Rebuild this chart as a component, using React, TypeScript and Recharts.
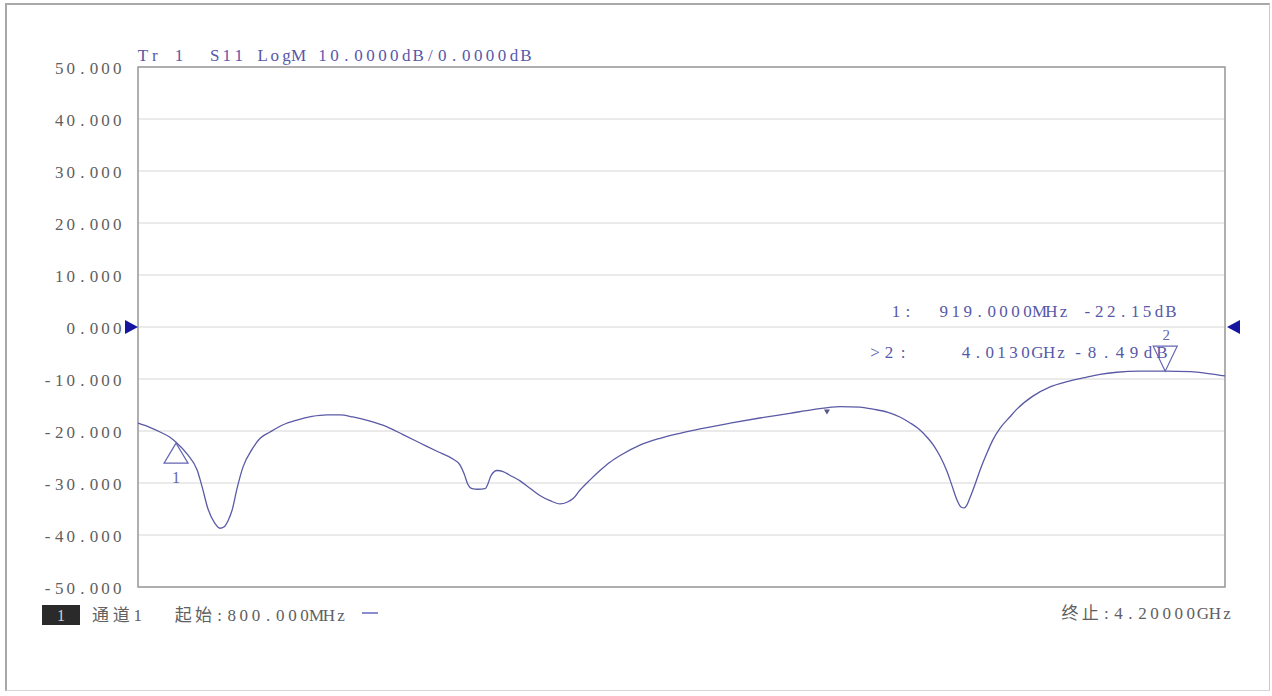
import React from "react";
import {
  LineChart,
  Line,
  XAxis,
  YAxis,
  CartesianGrid,
  ReferenceArea,
  ReferenceDot,
} from "recharts";

// ---- data ----
const freqMHz = [
  800, 837, 869, 900, 919, 956, 985, 1000, 1019, 1041, 1056, 1070, 1082, 1094, 1110, 1128, 1157, 1182, 1213,
  1254, 1297, 1344, 1391, 1432, 1472, 1526, 1579, 1629, 1682, 1735, 1785, 1807, 1820, 1832, 1845, 1863, 1885,
  1895, 1904, 1923, 1942, 1963, 1995, 2026, 2057, 2089, 2120, 2142, 2161, 2182, 2214, 2245, 2276, 2308, 2370,
  2433, 2498, 2558, 2652, 2745, 2839, 2911, 2996, 3058, 3099, 3146, 3183, 3214, 3246, 3268, 3290, 3310, 3330,
  3346, 3362, 3374, 3384, 3393, 3402, 3418, 3434, 3455, 3474, 3496, 3527, 3549, 3599, 3653, 3706, 3756, 3809,
  3862, 3934, 4013, 4091, 4153, 4200,
];
const s11dB = [
  -18.5, -19.3, -20.2, -21.2, -22.15, -24.6, -27.5, -30.6, -35, -37.8, -38.7, -38.4, -37.2, -35.3, -31, -27,
  -23.5, -21.4, -20.2, -18.8, -17.9, -17.2, -16.9, -16.9, -17.3, -18.1, -19.2, -20.7, -22.3, -23.9, -25.4, -26.5,
  -28.2, -30.3, -31.1, -31.2, -31.1, -30.1, -28.6, -27.6, -27.8, -28.5, -29.6, -31, -32.4, -33.4, -34, -33.7,
  -33, -31.4, -29.4, -27.6, -26, -24.7, -22.7, -21.4, -20.4, -19.6, -18.5, -17.5, -16.6, -15.9, -15.3, -15.4,
  -15.8, -16.4, -17.3, -18.4, -19.8, -21.2, -22.9, -25, -27.7, -30.5, -33.3, -34.6, -34.8, -34.2, -32.9, -30.3,
  -27.5, -24.3, -21.7, -19.5, -17.3, -15.8, -13.3, -11.5, -10.5, -9.8, -9.1, -8.7, -8.5, -8.49, -8.6, -9.0,
  -9.4,
];
const xTicks = [800, 1140, 1480, 1820, 2160, 2500, 2840, 3180, 3520, 3860, 4200];
const yTicks = [50, 40, 30, 20, 10, 0, -10, -20, -30, -40, -50];
const yTickLabels = [
  "50.000", "40.000", "30.000", "20.000", "10.000", "0.000",
  "-10.000", "-20.000", "-30.000", "-40.000", "-50.000",
];
const marker1 = { f: 919, db: -22.15, label: "1" };
const marker2 = { f: 4013, db: -8.49, label: "2" };
const smallMark = { f: 2955, db: -15.5 };
const titleText = "Tr 1  S11 LogM 10.0000dB/0.0000dB";
const markerLine1 = "1:  919.0000MHz -22.15dB";
const markerLine2 = [">2:", "4.0130GHz", "-8.49dB"];
const footerLeft = ["1", "通道1", "起始:800.000MHz"];
const footerRight = "终止:4.20000GHz";

const data = freqMHz.map((f, i) => ({ f, db: s11dB[i] }));

const FONT = "'Liberation Serif', 'Noto Sans CJK SC', serif";
const BLUE_TXT = "#5858a8";
const GRAY_TXT = "#606060";

const isWide = (ch: string) => ch.charCodeAt(0) > 0x2e80;

// Fixed-cell text (like an instrument's monospaced screen font): each glyph centred in its cell.
const Mono = ({ x, cy, w, children, fill = GRAY_TXT, size = 17, anchor = "start" }: any) => {
  const str: string = children;
  const chars = Array.from(str);
  const units = chars.reduce((s, c) => s + (isWide(c) ? 1.67 : 1), 0);
  const cw = w / units;
  const start = anchor === "end" ? x - w : x;
  const xs: number[] = [];
  let cur = start;
  for (const c of chars) {
    const cwc = isWide(c) ? cw * 1.67 : cw;
    xs.push(+(cur + cwc / 2).toFixed(2));
    cur += cwc;
  }
  return (
    <text
      x={xs.join(" ")}
      y={cy + size * 0.35}
      fontSize={size}
      fontFamily={FONT}
      fill={fill}
      textAnchor="middle"
      xmlSpace="preserve"
      style={{ whiteSpace: "pre" }}
    >
      {str}
    </text>
  );
};

const YTick = (props: any) => {
  const { x, y, payload } = props;
  const idx = yTicks.indexOf(payload.value);
  const label = idx >= 0 ? yTickLabels[idx] : String(payload.value);
  return (
    <Mono x={x} cy={y + 1} w={label.length * 11.6} anchor="end">
      {label}
    </Mono>
  );
};

const Marker1Shape = (props: any) => {
  const { cx, cy } = props;
  return (
    <g>
      <path d={`M${cx},${cy + 1} L${cx - 12},${cy + 21} L${cx + 12},${cy + 21} Z`} fill="none" stroke="#6464b4" strokeWidth={1.2} />
      <text x={cx} y={cy + 41} fontSize={16} fontFamily={FONT} fill="#6464b4" textAnchor="middle">
        {marker1.label}
      </text>
    </g>
  );
};

const Marker2Shape = (props: any) => {
  const { cx, cy } = props;
  return (
    <g>
      <path d={`M${cx},${cy} L${cx - 12},${cy - 25} L${cx + 12},${cy - 25} Z`} fill="none" stroke="#6464b4" strokeWidth={1.2} />
      <text x={cx + 1} y={cy - 31} fontSize={15} fontFamily={FONT} fill="#6464b4" textAnchor="middle">
        {marker2.label}
      </text>
    </g>
  );
};

const SmallMarkShape = (props: any) => {
  const { cx, cy } = props;
  return <path d={`M${cx - 3},${cy + 2} L${cx + 3},${cy + 2} L${cx},${cy + 7} Z`} fill="#55558a" />;
};

const LeftRefShape = (props: any) => {
  const { cx, cy } = props;
  return <path d={`M${cx - 13},${cy - 7} L${cx},${cy} L${cx - 13},${cy + 7} Z`} fill="#1515a0" />;
};

const RightRefShape = (props: any) => {
  const { cx, cy } = props;
  return <path d={`M${cx + 15},${cy - 7} L${cx + 2},${cy} L${cx + 15},${cy + 7} Z`} fill="#1515a0" />;
};

export default function App() {
  return (
    <div style={{ position: "absolute", left: 0, top: 0, width: 1272, height: 696, background: "#fff", overflow: "hidden" }}>
      <div
        style={{
          position: "absolute",
          left: 5,
          top: 3,
          width: 1262,
          height: 685,
          border: "2px solid #a8a8a8",
          borderRight: "1px solid #c8c8c8",
          borderBottom: "1px solid #d8d8d8",
        }}
      />
      <div style={{ position: "absolute", left: 0, top: 0 }}>
        <LineChart width={1272} height={696} data={data} margin={{ top: 67, right: 47, bottom: 109, left: 68 }}>
          <CartesianGrid stroke="#d6d6d6" strokeWidth={1} />
          <XAxis
            dataKey="f"
            type="number"
            domain={[800, 4200]}
            ticks={xTicks}
            tick={false}
            axisLine={false}
            tickLine={false}
            height={0}
          />
          <YAxis
            type="number"
            domain={[-50, 50]}
            ticks={yTicks}
            width={70}
            axisLine={false}
            tickLine={false}
            tickSize={0}
            tickMargin={15}
            tick={<YTick />}
            interval={0}
          />
          <ReferenceArea x1={800} x2={4200} y1={-50} y2={50} fill="none" stroke="#9c9c9c" strokeWidth={1.5} />
          <Line
            type="monotone"
            dataKey="db"
            stroke="#5a5aa6"
            strokeWidth={1.3}
            dot={false}
            isAnimationActive={false}
          />
          <ReferenceDot x={marker1.f} y={marker1.db} shape={<Marker1Shape />} />
          <ReferenceDot x={marker2.f} y={marker2.db} shape={<Marker2Shape />} />
          <ReferenceDot x={smallMark.f} y={smallMark.db} shape={<SmallMarkShape />} />
          <ReferenceDot x={800} y={0} shape={<LeftRefShape />} ifOverflow="visible" />
          <ReferenceDot x={4200} y={0} shape={<RightRefShape />} ifOverflow="visible" />
        </LineChart>
      </div>
      <svg width={1272} height={696} style={{ position: "absolute", left: 0, top: 0, pointerEvents: "none" }}>
        {/* title */}
        <Mono x={137} cy={55} w={395} fill={BLUE_TXT}>{titleText}</Mono>
        {/* marker table */}
        <Mono x={890} cy={311} w={287} fill={BLUE_TXT}>{markerLine1}</Mono>
        <Mono x={868} cy={352} w={42} fill={BLUE_TXT}>{markerLine2[0]}</Mono>
        <Mono x={960} cy={352} w={107} fill={BLUE_TXT}>{markerLine2[1]}</Mono>
        <Mono x={1071} cy={352} w={98} fill={BLUE_TXT}>{markerLine2[2]}</Mono>
        {/* footer */}
        <rect x={42} y={605} width={38} height={20} fill="#2a2a2a" />
        <text x={61} y={621} fontSize={16} fontFamily={FONT} fill="#d0d0d0" textAnchor="middle">
          {footerLeft[0]}
        </text>
        <Mono x={90} cy={615} w={54}>{footerLeft[1]}</Mono>
        <Mono x={173} cy={615} w={174}>{footerLeft[2]}</Mono>
        <line x1={362} y1={613} x2={378} y2={613} stroke="#8c8cd0" strokeWidth={2} />
        <Mono x={1060} cy={613} w={173}>{footerRight}</Mono>
      </svg>
    </div>
  );
}
